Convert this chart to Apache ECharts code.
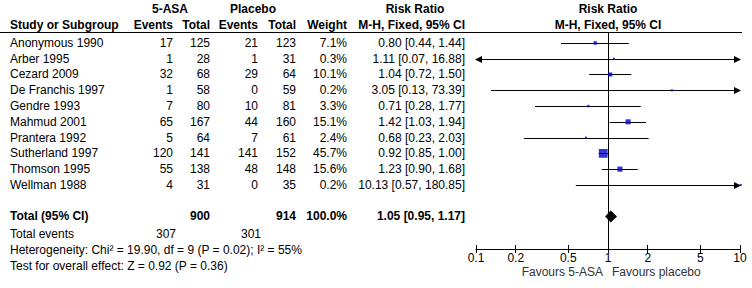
<!DOCTYPE html>
<html>
<head>
<meta charset="utf-8">
<script src="https://cdn.jsdelivr.net/npm/echarts@6/dist/echarts.min.js"></script>
<style>
  html, body { margin: 0; padding: 0; background: #fff; }
  #chart { width: 752px; height: 288px; }
</style>
</head>
<body>
<div id="chart"></div>
<script>
// study data
var studies = ['Anonymous 1990', 'Arber 1995', 'Cezard 2009', 'De Franchis 1997', 'Gendre 1993',
  'Mahmud 2001', 'Prantera 1992', 'Sutherland 1997', 'Thomson 1995', 'Wellman 1988'];
var asaEvents = [17, 1, 32, 1, 7, 65, 5, 120, 55, 4];
var asaTotal = [125, 28, 68, 58, 80, 167, 64, 141, 138, 31];
var plcEvents = [21, 1, 29, 0, 10, 44, 7, 141, 48, 0];
var plcTotal = [123, 31, 64, 59, 81, 160, 61, 152, 148, 35];
var weight = [7.1, 0.3, 10.1, 0.2, 3.3, 15.1, 2.4, 45.7, 15.6, 0.2];
var rr = [0.80, 1.11, 1.04, 3.05, 0.71, 1.42, 0.68, 0.92, 1.23, 10.13];
var ciLow = [0.44, 0.07, 0.72, 0.13, 0.28, 1.03, 0.23, 0.85, 0.90, 0.57];
var ciHigh = [1.44, 16.88, 1.50, 73.39, 1.77, 1.94, 2.03, 1.00, 1.68, 180.85];

// pooled result
var pooled = [1.05, 0.95, 1.17];        // rr, low, high
var pooledTotals = [900, 914];          // 5-ASA, placebo
var pooledEvents = [307, 301];
var heterogeneity = 'Heterogeneity: Chi\u00b2 = 19.90, df = 9 (P = 0.02); I\u00b2 = 55%';
var overallTest = 'Test for overall effect: Z = 0.92 (P = 0.36)';

var tickValues = [0.1, 0.2, 0.5, 1, 2, 5, 10];
var noEffect = 1;

var FONT = '"Liberation Sans", Arial, sans-serif';
var TOTAL_ROW = 11;
var Y_MIN = -0.63, Y_MAX = 13.06;
var colX = { study: 10, ev1: 173, tot1: 210, ev2: 258, tot2: 296, wt: 347, rr: 465 };

function fmt2(v) { return v.toFixed(2); }
function ciText(r, l, h) { return fmt2(r) + ' [' + fmt2(l) + ', ' + fmt2(h) + ']'; }

function txt(x, y, s, align, bold, color) {
  return {
    type: 'text', x: x, y: y,
    style: {
      text: s, align: align, verticalAlign: 'middle',
      textAlign: align, textVerticalAlign: 'middle',
      font: (bold ? 'bold ' : '') + '12px ' + FONT,
      fill: color || '#000'
    }
  };
}

var tableData = studies.map(function (s, i) { return [1, i]; });
tableData.push([1, TOTAL_ROW]);

var chart = echarts.init(document.getElementById('chart'), null, { renderer: 'svg' });

var option = {
  animation: false,
  backgroundColor: '#fff',
  grid: { left: 476, right: 12, top: 33, bottom: 39 },
  xAxis: [{
    type: 'log', logBase: 10, min: 0.1, max: 10, position: 'bottom',
    axisLine: { show: true, onZero: false, lineStyle: { color: '#000', width: 1 } },
    axisTick: { show: true, inside: false, length: 4, lineStyle: { color: '#000' }, customValues: tickValues },
    axisLabel: {
      color: '#000', fontSize: 12, fontFamily: FONT, margin: 3, customValues: tickValues,
      formatter: function (v) { return String(+v.toPrecision(3)); }
    },
    splitLine: { show: false },
    minorTick: { show: false }
  }, {
    // second copy only to draw the upper half of the ticks
    type: 'log', logBase: 10, min: 0.1, max: 10, position: 'bottom', offset: 0,
    axisLine: { show: false, onZero: false },
    axisTick: { show: true, inside: true, length: 4, lineStyle: { color: '#000' }, customValues: tickValues },
    axisLabel: { show: false },
    splitLine: { show: false }
  }],
  yAxis: { type: 'value', inverse: true, min: Y_MIN, max: Y_MAX, show: false },
  graphic: [
    { type: 'line', shape: { x1: 0, y1: 32.5, x2: 742, y2: 32.5 }, style: { stroke: '#000', lineWidth: 1 } },
    txt(170, 9, '5-ASA', 'center', true),
    txt(253, 9, 'Placebo', 'center', true),
    txt(415, 9, 'Risk Ratio', 'center', true),
    txt(608, 9, 'Risk Ratio', 'center', true),
    txt(colX.study, 25, 'Study or Subgroup', 'left', true),
    txt(colX.ev1, 25, 'Events', 'right', true),
    txt(colX.tot1, 25, 'Total', 'right', true),
    txt(colX.ev2, 25, 'Events', 'right', true),
    txt(colX.tot2, 25, 'Total', 'right', true),
    txt(colX.wt, 25, 'Weight', 'right', true),
    txt(colX.rr, 25, 'M-H, Fixed, 95% CI', 'right', true),
    txt(608, 25, 'M-H, Fixed, 95% CI', 'center', true),
    txt(colX.study, 234, 'Total events', 'left'),
    txt(colX.ev1 + 3, 234, String(pooledEvents[0]), 'right'),
    txt(colX.ev2 + 3, 234, String(pooledEvents[1]), 'right'),
    txt(colX.study, 250, heterogeneity, 'left'),
    txt(colX.study, 266, overallTest, 'left'),
    txt(603, 272, 'Favours 5-ASA', 'right', false, '#333'),
    txt(612, 272, 'Favours placebo', 'left', false, '#333')
  ],
  series: [
    {
      // table text, one row per study plus the total row
      type: 'custom',
      clip: false,
      silent: true,
      encode: { x: 0, y: 1 },
      data: tableData,
      renderItem: function (params, api) {
        var i = params.dataIndex;
        var y = api.coord([1, api.value(1)])[1];
        if (i < studies.length) {
          return {
            type: 'group', children: [
              txt(colX.study, y, studies[i], 'left'),
              txt(colX.ev1, y, String(asaEvents[i]), 'right'),
              txt(colX.tot1, y, String(asaTotal[i]), 'right'),
              txt(colX.ev2, y, String(plcEvents[i]), 'right'),
              txt(colX.tot2, y, String(plcTotal[i]), 'right'),
              txt(colX.wt, y, weight[i].toFixed(1) + '%', 'right'),
              txt(colX.rr, y, ciText(rr[i], ciLow[i], ciHigh[i]), 'right')
            ]
          };
        }
        return {
          type: 'group', children: [
            txt(colX.study, y, 'Total (95% CI)', 'left', true),
            txt(colX.tot1, y, String(pooledTotals[0]), 'right', true),
            txt(colX.tot2, y, String(pooledTotals[1]), 'right', true),
            txt(colX.wt, y, '100.0%', 'right', true),
            txt(colX.rr, y, ciText(pooled[0], pooled[1], pooled[2]), 'right', true)
          ]
        };
      }
    },
    {
      // confidence interval lines with arrows where they run off the axis,
      // plus the line of no effect drawn with the first item
      type: 'custom',
      clip: false,
      silent: true,
      encode: { x: [0, 1], y: 2 },
      data: studies.map(function (s, i) { return [ciLow[i], ciHigh[i], i]; }),
      renderItem: function (params, api) {
        var cs = params.coordSys;
        var lo = api.value(0), hi = api.value(1), row = api.value(2);
        var pL = api.coord([Math.max(lo, 0.1), row]);
        var pH = api.coord([Math.min(hi, 10), row]);
        var y = Math.round(pL[1]) + 0.5;
        var kids = [{
          type: 'line',
          shape: { x1: pL[0], y1: y, x2: pH[0], y2: y },
          style: { stroke: '#000', lineWidth: 1 }
        }];
        if (lo < 0.1) {
          var x0 = cs.x;
          kids.push({ type: 'polygon', shape: { points: [[x0 - 1, y], [x0 + 6, y - 3.5], [x0 + 6, y + 3.5]] }, style: { fill: '#000' } });
        }
        if (hi > 10) {
          var x1 = cs.x + cs.width;
          kids.push({ type: 'polygon', shape: { points: [[x1 + 1, y], [x1 - 6, y - 3.5], [x1 - 6, y + 3.5]] }, style: { fill: '#000' } });
        }
        if (params.dataIndex === 0) {
          var xN = Math.round(api.coord([noEffect, row])[0]) + 0.5;
          kids.push({
            type: 'line',
            shape: { x1: xN, y1: cs.y, x2: xN, y2: cs.y + cs.height },
            style: { stroke: '#000', lineWidth: 1 }
          });
        }
        return { type: 'group', children: kids };
      }
    },
    {
      // study point estimates, square area follows weight
      type: 'scatter',
      symbol: 'rect',
      clip: false,
      silent: true,
      itemStyle: { color: '#0000c8' },
      symbolSize: function (val, params) {
        return Math.max(2, 1.3 * Math.sqrt(weight[params.dataIndex]));
      },
      data: studies.map(function (s, i) { return [rr[i], i]; }),
      z: 5
    },
    {
      // pooled diamond
      type: 'custom',
      silent: true,
      encode: { x: [0, 1, 2], y: 3 },
      data: [[pooled[1], pooled[0], pooled[2], TOTAL_ROW]],
      renderItem: function (params, api) {
        var row = api.value(3);
        var pL = api.coord([api.value(0), row]);
        var pC = api.coord([api.value(1), row]);
        var pH = api.coord([api.value(2), row]);
        var h = 6;
        return {
          type: 'polygon',
          shape: { points: [[pL[0], pC[1]], [pC[0], pC[1] - h], [pH[0], pC[1]], [pC[0], pC[1] + h]] },
          style: { fill: '#000' }
        };
      },
      z: 5
    }
  ]
};

chart.setOption(option);
</script>
</body>
</html>
